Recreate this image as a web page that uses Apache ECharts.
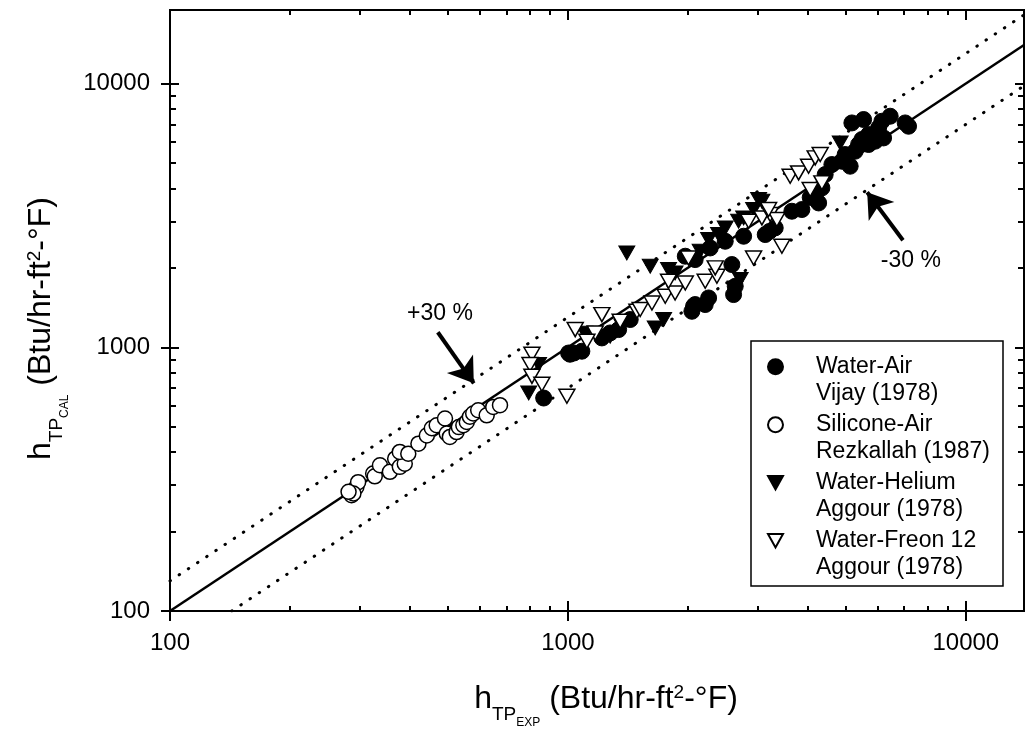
<!DOCTYPE html>
<html><head><meta charset="utf-8">
<script src="https://cdn.jsdelivr.net/npm/echarts@6/dist/echarts.min.js"></script>
<style>html,body{margin:0;padding:0;background:#fff}#c{width:1029px;height:740px}</style>
</head><body><div id="c"></div>
<script>
// ---------------- data ----------------
const seriesNames = ['Water-Air', 'Silicone-Air', 'Water-Helium', 'Water-Freon 12'];
const seriesSources = ['Vijay (1978)', 'Rezkallah (1987)', 'Aggour (1978)', 'Aggour (1978)'];

const waterAir = [
  [869,642],[1004,951],[1012,941],[1035,951],[1084,966],[1217,1085],[1277,1133],[1341,1167],[1434,1274],
  [2069,1431],[2213,1452],[1972,2214],[2088,2150],[2582,2059],[2633,1703],[2608,1584],[2257,1538],[2088,1452],[2049,1369],
  [2278,2380],[2485,2523],[2764,2636],[3132,2675],[3210,2750],[3318,2835],[3654,3279],[3872,3328],[4063,3700],[4266,3525],
  [4182,3738],[4347,4019],[4431,4519],[4606,4930],[4880,5074],[5120,4858],[4974,5380],[5271,5538],[5376,5872],[5696,5872],
  [5918,6044],[5696,6406],[6036,6786],[5171,7089],[5534,7303],[6152,7194],[6454,7516],[7039,7089],[7178,6887],[6212,6219],[5480,6134]
];
const siliconeAir = [
  [286,275],[294,295],[297,308],[289,279],[281,283],[324,332],[327,324],[337,357],[357,337],[368,378],[378,352],[389,362],
  [378,401],[397,395],[421,431],[442,463],[455,493],[468,506],[491,537],[496,471],[505,457],[525,477],[532,498],[546,506],
  [557,521],[567,545],[578,561],[595,577],[625,552],[649,594],[675,603]
];
const waterHelium = [
  [797,671],[844,860],[1103,1130],[1277,1101],[1367,1201],[1657,1184],[1740,1274],[1406,2278],[1610,2029],[1790,1971],
  [1859,1913],[2149,2312],[2257,2561],[2391,2675],[2485,2835],[2685,3005],[2764,3093],[2928,3328],[3015,3631],[3072,3579],
  [2710,1806],[2633,1679],[4833,5955]
];
const waterFreon = [
  [812,941],[803,860],[812,776],[860,724],[994,652],[1043,1167],[1217,1330],[1353,1255],[1491,1369],[1171,1133],[1116,1054],
  [1519,1390],[1626,1472],[1756,1561],[1859,1606],[1790,1779],[1972,1753],[2213,1779],[2368,1859],[2345,1999],[2009,2181],
  [2928,2181],[3449,2415],[2845,3005],[3072,3093],[3223,3186],[3350,3050],[3193,3328],[3618,4452],[3799,4581],[4025,4858],
  [4063,3963],[4347,4199],[4182,5223],[4305,5380]
];

const xRange = [100, 14000];
const yRange = [100, 19000];
const majorTicks = [100, 1000, 10000];
const minorTicks = [200,300,400,500,600,700,800,900,2000,3000,4000,5000,6000,7000,8000,9000];
const tickLabels = ['100', '1000', '10000'];

// reference lines y = k * x
const perfectLine = [[100,100],[14000,14000]];
const plusLine = [[100,130],[14000,18200]];
const minusLine = [[142.9,100],[14000,9800]];

// annotations (data coordinates)
const plusArrow = [[471,1140],[580,730]];
const minusArrow = [[6950,2546],[5650,3870]];
const plusText = ['+30 %', [477,1346]];
const minusText = ['-30 %', [7275,2138]];

// ---------------- chart ----------------
const FONT = '"Liberation Sans", Arial, Helvetica, sans-serif';
const BLACK = '#000';
const triDown = 'path://M0,0L10,0L5,9Z';

function logAxis(extra) {
  const base = {
    type: 'log', logBase: 10,
    splitLine: { show: false }, minorTick: { show: false }, minorSplitLine: { show: false },
    axisLine: { show: true, onZero: false, lineStyle: { color: BLACK, width: 2 } },
    axisLabel: { show: false },
    axisPointer: { show: false },
    silent: true
  };
  return Object.assign(base, extra);
}
function tick(values, len, inside) {
  return { show: true, customValues: values, length: len, inside: inside, lineStyle: { color: BLACK, width: 2 } };
}
const titleRich = {
  m: { fontSize: 32, lineHeight: 37, verticalAlign: 'top', fontFamily: FONT, color: BLACK },
  s: { fontSize: 19, lineHeight: 19, verticalAlign: 'top', padding: [22,0,0,0], fontFamily: FONT, color: BLACK },
  ss: { fontSize: 12, lineHeight: 12, verticalAlign: 'top', padding: [34,0,0,0], fontFamily: FONT, color: BLACK },
  p: { fontSize: 19, lineHeight: 19, verticalAlign: 'top', padding: [0,0,0,0], fontFamily: FONT, color: BLACK }
};

const xCommon = { min: xRange[0], max: xRange[1] };
const yCommon = { min: yRange[0], max: yRange[1] };
const labelFmt = v => tickLabels[majorTicks.indexOf(Math.round(v))] || String(Math.round(v));

const xAxes = [
  logAxis(Object.assign({}, xCommon, {
    position: 'bottom',
    axisTick: tick(majorTicks, 10, false),
    axisLabel: { show: true, customValues: majorTicks, formatter: labelFmt, fontSize: 24, fontFamily: FONT, color: BLACK, margin: 20 },
    name: '{m|h}{s|TP}{ss|EXP}{m| (Btu/hr-ft}{p|2}{m|-°F)}',
    nameLocation: 'middle', nameGap: 72,
    nameTextStyle: { fontFamily: FONT, color: BLACK, rich: titleRich, padding: [0, 0, 0, 18] }
  })),
  logAxis(Object.assign({}, xCommon, { position: 'bottom', axisTick: tick(majorTicks, 10, true) })),
  logAxis(Object.assign({}, xCommon, { position: 'bottom', axisTick: tick(minorTicks, 5, true) })),
  logAxis(Object.assign({}, xCommon, { position: 'top', axisTick: tick(majorTicks, 10, true) })),
  logAxis(Object.assign({}, xCommon, { position: 'top', axisTick: tick(minorTicks, 5, true) }))
];
const yAxes = [
  logAxis(Object.assign({}, yCommon, {
    position: 'left',
    axisTick: tick(majorTicks, 9, false),
    axisLabel: { show: true, customValues: majorTicks, formatter: labelFmt, fontSize: 24, fontFamily: FONT, color: BLACK, margin: 20 },
    name: '{m|h}{s|TP}{ss|CAL}{m| (Btu/hr-ft}{p|2}{m|-°F)}',
    nameLocation: 'middle', nameGap: 108,
    nameTextStyle: { fontFamily: FONT, color: BLACK, rich: titleRich, padding: [0, 36, 0, 0] }
  })),
  logAxis(Object.assign({}, yCommon, { position: 'left', axisTick: tick(majorTicks, 9, true) })),
  logAxis(Object.assign({}, yCommon, { position: 'left', axisTick: tick(minorTicks, 6, true) })),
  logAxis(Object.assign({}, yCommon, { position: 'right', axisTick: tick(majorTicks, 9, true) })),
  logAxis(Object.assign({}, yCommon, { position: 'right', axisTick: tick(minorTicks, 6, true) }))
];

function refLine(data, dotted) {
  return {
    type: 'line', data: data, xAxisIndex: 0, yAxisIndex: 0, showSymbol: false, symbol: 'none', silent: true, clip: true,
    z: 1, animation: false,
    lineStyle: dotted ? { color: BLACK, width: 3, type: [0.5, 10.5], cap: 'round' } : { color: BLACK, width: 2.5 }
  };
}
function arrowLine(pts, label) {
  return {
    type: 'line', data: [], xAxisIndex: 0, yAxisIndex: 0, silent: true, z: 2,
    markLine: {
      silent: true, animation: false, symbol: ['none', 'arrow'], symbolSize: 24, precision: 6,
      label: { show: false }, emphasis: { disabled: true },
      lineStyle: { color: BLACK, width: 4, type: 'solid', opacity: 1 },
      itemStyle: { color: BLACK },
      data: [[{ coord: pts[0] }, { coord: pts[1] }]]
    },
    markPoint: {
      silent: true, animation: false, symbol: 'rect', symbolSize: 1, itemStyle: { color: 'rgba(0,0,0,0)' },
      label: { show: true, position: 'inside', formatter: label[0], fontSize: 23, fontFamily: FONT, color: BLACK },
      data: [{ coord: label[1] }]
    }
  };
}
function scatter(name, data, symbol, size, filled) {
  return {
    type: 'scatter', name: name, data: data, xAxisIndex: 0, yAxisIndex: 0, symbol: symbol, symbolSize: size,
    z: 3, animation: false,
    itemStyle: filled ? { color: BLACK, borderColor: BLACK, borderWidth: 1, opacity: 1 } : { color: '#fff', borderColor: BLACK, borderWidth: 1.5, opacity: 1 },
    emphasis: { disabled: true }
  };
}

const chart = echarts.init(document.getElementById('c'), null, { renderer: 'canvas' });
chart.setOption({
  animation: false,
  backgroundColor: '#fff',
  grid: { left: 170, right: 5, top: 10, bottom: 129, containLabel: false },
  xAxis: xAxes,
  yAxis: yAxes,
  legend: {
    orient: 'vertical', left: 767, top: 327, padding: 0, itemGap: -21.5,
    itemWidth: 15, itemHeight: 15, selectedMode: false,
    data: seriesNames,
    formatter: function (n) { return '\n' + n + '\n' + seriesSources[seriesNames.indexOf(n)]; },
    textStyle: { fontSize: 23, fontFamily: FONT, color: BLACK, lineHeight: 26.5, padding: [0, 0, 0, 28] }
  },
  graphic: [{
    type: 'rect', silent: true, z: 0,
    shape: { x: 751, y: 341, width: 252, height: 245 },
    style: { fill: 'transparent', stroke: BLACK, lineWidth: 1.5 }
  }],
  series: [
    refLine(perfectLine, false),
    refLine(plusLine, true),
    refLine(minusLine, true),
    arrowLine(plusArrow, plusText),
    arrowLine(minusArrow, minusText),
    scatter(seriesNames[0], waterAir, 'circle', 16, true),
    scatter(seriesNames[1], siliconeAir, 'circle', 15, false),
    scatter(seriesNames[2], waterHelium, triDown, [16, 14], true),
    scatter(seriesNames[3], waterFreon, triDown, [16, 14], false)
  ]
});
</script>
</body></html>
